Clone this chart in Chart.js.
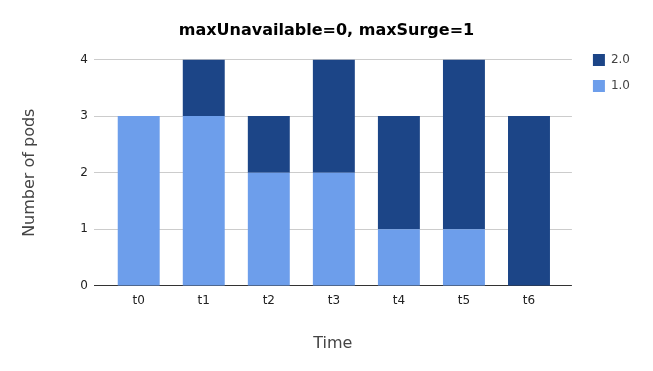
<!DOCTYPE html>
<html>
<head>
<meta charset="utf-8">
<script src="https://cdn.jsdelivr.net/npm/chart.js@4/dist/chart.umd.min.js"></script>
<style>
  html, body { margin: 0; padding: 0; background: #fff; }
  #wrap { width: 653px; height: 371px; position: relative; }
</style>
</head>
<body>
<div id="wrap"><canvas id="c" width="653" height="371"></canvas></div>
<script>
const categories = ['t0', 't1', 't2', 't3', 't4', 't5', 't6'];
const v1 = [3, 3, 2, 2, 1, 1, 0];   // series "1.0"
const v2 = [0, 1, 1, 2, 2, 3, 3];   // series "2.0"
const yTicks = [0, 1, 2, 3, 4];
const titleText = 'maxUnavailable=0, maxSurge=1';
const xTitle = 'Time';
const yTitle = 'Number of pods';

const FONT = "'DejaVu Sans', Verdana, sans-serif";
Chart.defaults.font.family = FONT;

const toPts = arr => arr.map((v, i) => ({ x: i, y: v }));

new Chart(document.getElementById('c'), {
  type: 'bar',
  data: {
    datasets: [
      {
        label: '1.0',
        data: toPts(v1),
        backgroundColor: '#6d9eeb',
        borderWidth: 0,
        barPercentage: 0.645,
        categoryPercentage: 1
      },
      {
        label: '2.0',
        data: toPts(v2),
        backgroundColor: '#1c4587',
        borderWidth: 0,
        barPercentage: 0.645,
        categoryPercentage: 1
      }
    ]
  },
  options: {
    responsive: false,
    animation: false,
    devicePixelRatio: 1,
    layout: { padding: { left: 13, right: 13, top: 0, bottom: 0 } },
    plugins: {
      title: {
        display: true,
        text: titleText,
        color: '#000',
        font: { size: 16, weight: 'bold', family: FONT },
        padding: { top: 21.4, bottom: 18.9 }
      },
      legend: {
        position: 'right',
        align: 'start',
        reverse: true,
        title: { display: true, text: '', font: { size: 10 }, padding: { top: 28, bottom: 0 } },
        labels: {
          boxWidth: 12,
          boxHeight: 12,
          padding: 14,
          color: '#444',
          font: { size: 12, family: FONT }
        }
      },
      tooltip: { enabled: false }
    },
    scales: {
      x: {
        type: 'linear',
        stacked: true,
        min: -0.69,
        max: 6.66,
        offset: false,
        grid: { display: false, drawTicks: false },
        border: { display: false },
        ticks: {
          stepSize: 1,
          includeBounds: false,
          padding: 8,
          color: '#222',
          font: { size: 12, family: FONT },
          callback: v => (categories[v] !== undefined ? categories[v] : '')
        },
        title: {
          display: true,
          text: xTitle,
          color: '#444',
          font: { size: 16, family: FONT },
          padding: { top: 17.5, bottom: 18 }
        }
      },
      y: {
        stacked: true,
        min: yTicks[0],
        max: yTicks[yTicks.length - 1],
        grid: {
          drawTicks: false,
          color: ctx => (ctx.tick && ctx.tick.value === 0 ? '#333' : '#ccc'),
          lineWidth: 1
        },
        border: { display: false },
        afterBuildTicks: s => { s.ticks = yTicks.map(v => ({ value: v })); },
        ticks: {
          padding: 6,
          color: '#222',
          font: { size: 12, family: FONT }
        },
        title: {
          display: true,
          text: yTitle,
          color: '#444',
          font: { size: 16, family: FONT },
          padding: { top: 7, bottom: 35 }
        }
      },
      yPad: {
        position: 'right',
        display: true,
        grid: { display: false },
        border: { display: false },
        ticks: { display: false },
        afterFit: s => { s.width = 7; }
      }
    }
  }
});
</script>
</body>
</html>
